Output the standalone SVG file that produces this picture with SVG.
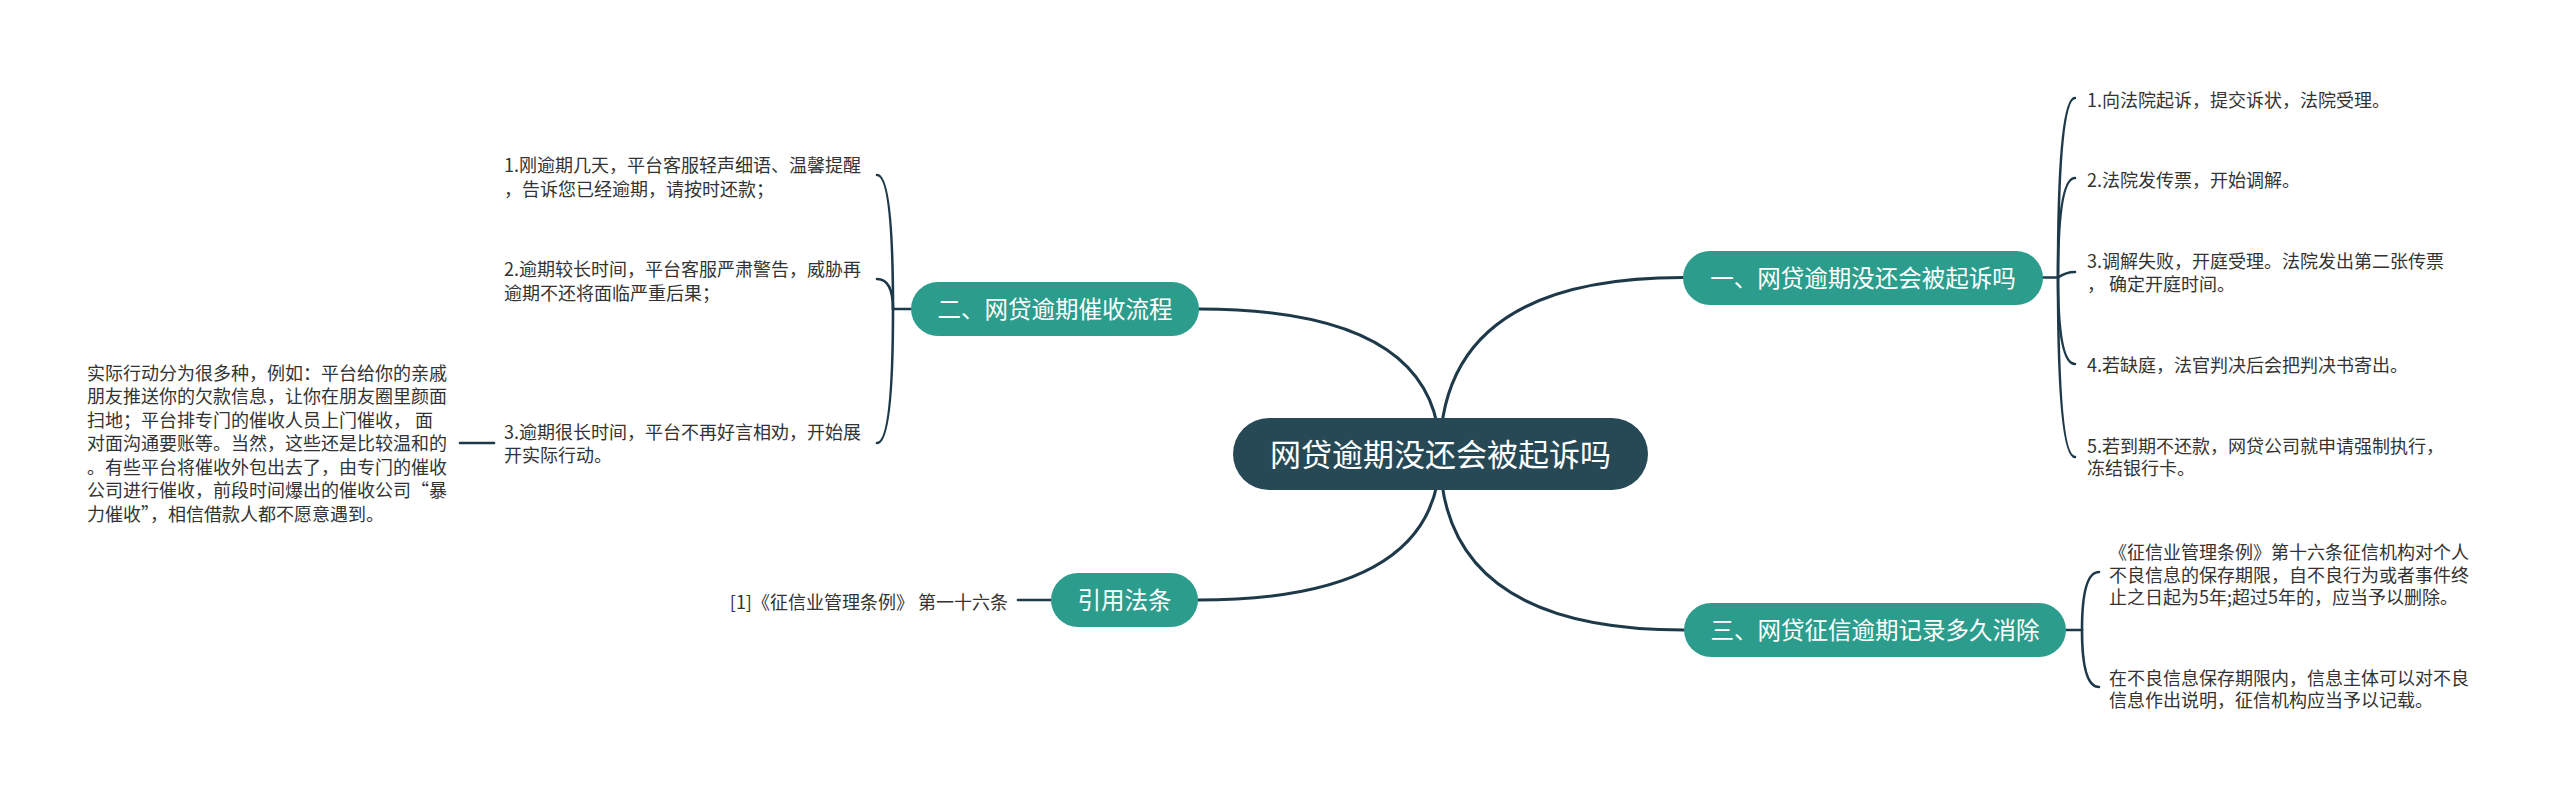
<svg xmlns="http://www.w3.org/2000/svg" width="2560" height="799" viewBox="0 0 2560 799">
<style>
.bg{fill:#ffffff}
.main{fill:none;stroke:#1e3a4a;stroke-width:3;stroke-linecap:round}
.br{fill:none;stroke:#1e3a4a;stroke-width:2.6;stroke-linecap:round}
.root{fill:#274956}
.topic{fill:#2c9d8c}
.t{font-family:"Noto Sans CJK SC","Noto Sans",sans-serif}
.rootT{font-size:31px;fill:#ffffff;text-anchor:middle}
.topicT{font-size:23.5px;fill:#ffffff;text-anchor:middle}
.leaf{font-size:18px;fill:#333333}
</style>
<rect class="bg" x="0" y="0" width="2560" height="799"/>
<g id="connectors">
<path class="main" d="M1440,454 Q1440,277.5 1683,277.5"/>
<path class="main" d="M1440,454 Q1440,309 1199,309"/>
<path class="main" d="M1440,454 Q1440,630 1684,630"/>
<path class="main" d="M1440,454 Q1440,600 1198,600"/>
<path class="br" d="M2042,277.5 L2058,277.5"/>
<path class="br" d="M2058,277.5 Q2058,98 2075,98"/>
<path class="br" d="M2058,277.5 Q2058,178 2075,178"/>
<path class="br" d="M2058,277.5 Q2066,272 2075,272"/>
<path class="br" d="M2058,277.5 Q2058,364 2075,364"/>
<path class="br" d="M2058,277.5 Q2058,457 2075,457"/>
<path class="br" d="M911,309 L893,309"/>
<path class="br" d="M893,309 Q893,175 877,175"/>
<path class="br" d="M893,309 Q893,279 877,279"/>
<path class="br" d="M893,309 Q893,443 877,443"/>
<path class="br" d="M494,443 L460,443"/>
<path class="br" d="M2066,630 L2082,630"/>
<path class="br" d="M2082,630 Q2082,572 2099,572"/>
<path class="br" d="M2082,630 Q2082,687 2099,687"/>
<path class="br" d="M1051,600 L1018,600"/>
</g>
<g id="root">
<rect class="root" x="1233" y="418" width="415" height="72" rx="36"/>
<text class="t rootT" x="1440.5" y="465.5">网贷逾期没还会被起诉吗</text>
</g>
<g id="topic1">
<rect class="topic" x="1683" y="251" width="360" height="54" rx="27"/>
<text class="t topicT" x="1863" y="287">一、网贷逾期没还会被起诉吗</text>
</g>
<g id="topic2">
<rect class="topic" x="911" y="282" width="288" height="54" rx="27"/>
<text class="t topicT" x="1055" y="318">二、网贷逾期催收流程</text>
</g>
<g id="topic3">
<rect class="topic" x="1684" y="603" width="382" height="54" rx="27"/>
<text class="t topicT" x="1875" y="639">三、网贷征信逾期记录多久消除</text>
</g>
<g id="topic4">
<rect class="topic" x="1051" y="573" width="147" height="54" rx="27"/>
<text class="t topicT" x="1124.5" y="609">引用法条</text>
</g>
<g id="leaf1-1"><text class="t leaf" x="2087" y="106.5">1.向法院起诉，提交诉状，法院受理。</text></g>
<g id="leaf1-2"><text class="t leaf" x="2087" y="186.5">2.法院发传票，开始调解。</text></g>
<g id="leaf1-3"><text class="t leaf" x="2087" y="267.5">3.调解失败，开庭受理。法院发出第二张传票<tspan x="2087" y="290.5">， 确定开庭时间。</tspan></text></g>
<g id="leaf1-4"><text class="t leaf" x="2087" y="371.5">4.若缺庭，法官判决后会把判决书寄出。</text></g>
<g id="leaf1-5"><text class="t leaf" x="2087" y="452.5">5.若到期不还款，网贷公司就申请强制执行，<tspan x="2087" y="474.5">冻结银行卡。</tspan></text></g>
<g id="leaf2-1"><text class="t leaf" x="504" y="171.5">1.刚逾期几天，平台客服轻声细语、温馨提醒<tspan x="504" y="195.5">，告诉您已经逾期，请按时还款；</tspan></text></g>
<g id="leaf2-2"><text class="t leaf" x="504" y="275.5">2.逾期较长时间，平台客服严肃警告，威胁再<tspan x="504" y="299.5">逾期不还将面临严重后果；</tspan></text></g>
<g id="leaf2-3"><text class="t leaf" x="504" y="438.5">3.逾期很长时间，平台不再好言相劝，开始展<tspan x="504" y="461.5">开实际行动。</tspan></text></g>
<g id="leaf2-3-1"><text class="t leaf" x="87" y="379.5">实际行动分为很多种，例如：平台给你的亲戚<tspan x="87" y="403">朋友推送你的欠款信息，让你在朋友圈里颜面</tspan><tspan x="87" y="426.5">扫地；平台排专门的催收人员上门催收， 面</tspan><tspan x="87" y="450">对面沟通要账等。当然，这些还是比较温和的</tspan><tspan x="87" y="473.5">。有些平台将催收外包出去了，由专门的催收</tspan><tspan x="87" y="497">公司进行催收，前段时间爆出的催收公司“暴</tspan><tspan x="87" y="520.5">力催收”，相信借款人都不愿意遇到。</tspan></text></g>
<g id="leaf3-1"><text class="t leaf" x="2109" y="558.5">《征信业管理条例》第十六条征信机构对个人<tspan x="2109" y="581.5">不良信息的保存期限，自不良行为或者事件终</tspan><tspan x="2109" y="603.5">止之日起为5年;超过5年的，应当予以删除。</tspan></text></g>
<g id="leaf3-2"><text class="t leaf" x="2109" y="684.5">在不良信息保存期限内，信息主体可以对不良<tspan x="2109" y="706.5">信息作出说明，征信机构应当予以记载。</tspan></text></g>
<g id="leaf4-1"><text class="t leaf" x="1008" y="608.5" text-anchor="end">[1]《征信业管理条例》 第一十六条</text></g>
</svg>
